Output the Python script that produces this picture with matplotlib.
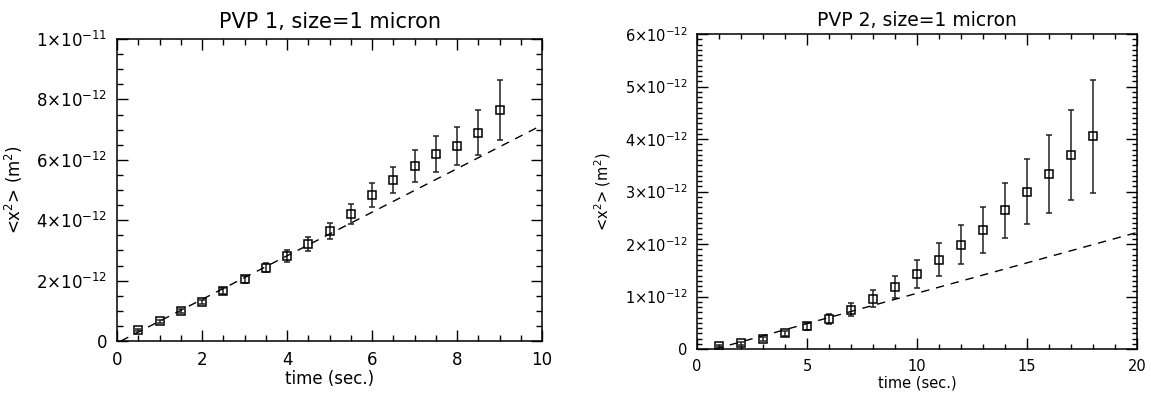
import matplotlib
matplotlib.use("Agg")
import matplotlib.pyplot as plt
from matplotlib.ticker import MultipleLocator

# PVP 1 data (t in sec, <x^2> in units of 1e-12 m^2)
t1 = [0.5, 1.0, 1.5, 2.0, 2.5, 3.0, 3.5, 4.0, 4.5, 5.0, 5.5, 6.0, 6.5, 7.0, 7.5, 8.0, 8.5, 9.0]
msd1 = [0.36, 0.66, 0.99, 1.29, 1.67, 2.04, 2.43, 2.82, 3.21, 3.65, 4.20, 4.83, 5.33, 5.78, 6.18, 6.45, 6.90, 7.65]
err1 = [0.04, 0.05, 0.07, 0.08, 0.10, 0.12, 0.15, 0.19, 0.23, 0.27, 0.33, 0.40, 0.44, 0.53, 0.60, 0.63, 0.75, 1.00]
fit1_t = [0.09, 10.0]
fit1_y = [0.0, 7.15]
yticks1 = [0, 2, 4, 6, 8, 10]
ylabels1 = ["0", r"$2{\times}10^{-12}$", r"$4{\times}10^{-12}$", r"$6{\times}10^{-12}$",
            r"$8{\times}10^{-12}$", r"$1{\times}10^{-11}$"]

# PVP 2 data
t2 = [1, 2, 3, 4, 5, 6, 7, 8, 9, 10, 11, 12, 13, 14, 15, 16, 17, 18]
msd2 = [0.05, 0.11, 0.19, 0.30, 0.43, 0.57, 0.75, 0.96, 1.19, 1.43, 1.70, 1.99, 2.27, 2.64, 3.00, 3.34, 3.70, 4.05]
err2 = [0.02, 0.03, 0.04, 0.05, 0.06, 0.09, 0.12, 0.16, 0.21, 0.26, 0.31, 0.37, 0.44, 0.53, 0.62, 0.74, 0.86, 1.07]
fit2_t = [0.82, 20.0]
fit2_y = [0.0, 2.22]
yticks2 = [0, 1, 2, 3, 4, 5, 6]
ylabels2 = ["0"] + [r"$%d{\times}10^{-12}$" % k for k in range(1, 7)]

plt.rcParams["font.family"] = ["DejaVu Sans"]
plt.rcParams["mathtext.fontset"] = "dejavusans"

fig = plt.figure(figsize=(11.51, 3.94), dpi=100)
ax1 = fig.add_axes([0.1017, 0.1345, 0.3692, 0.7665])
ax2 = fig.add_axes([0.6056, 0.1142, 0.3823, 0.7995])


def style(ax, fs, ymin):
    for s in ax.spines.values():
        s.set_linewidth(1.1)
    ax.tick_params(which="both", direction="in", top=True, right=True,
                   labelsize=fs, width=1.0, pad=7)
    ax.tick_params(which="major", length=8)
    ax.tick_params(which="minor", length=4)
    ax.yaxis.set_minor_locator(MultipleLocator(ymin))


# left panel
ax1.errorbar(t1, msd1, yerr=err1, fmt="s", ms=6, mfc="none", mec="black", mew=1.1,
             ecolor="#222222", elinewidth=1.1, capsize=2.5, capthick=1.1)
ax1.plot(fit1_t, fit1_y, color="black", lw=1.0, dashes=(6, 5))
ax1.set_xlim(0, 10)
ax1.set_ylim(0, 10)
ax1.set_xticks([0, 2, 4, 6, 8, 10])
ax1.set_yticks(yticks1)
ax1.set_yticklabels(ylabels1)
ax1.xaxis.set_minor_locator(MultipleLocator(0.5))
style(ax1, 12, 0.5)
ax1.set_title("PVP 1, size=1 micron", fontsize=15, pad=8)
ax1.set_xlabel("time (sec.)", fontsize=12, labelpad=1)
ax1.set_ylabel(r"<x$^2$> (m$^2$)", fontsize=12, labelpad=8)

# right panel
ax2.errorbar(t2, msd2, yerr=err2, fmt="s", ms=6, mfc="none", mec="black", mew=1.1,
             ecolor="#222222", elinewidth=1.1, capsize=2.5, capthick=1.1)
ax2.plot(fit2_t, fit2_y, color="black", lw=1.0, dashes=(6, 5))
ax2.set_xlim(0, 20)
ax2.set_ylim(0, 6)
ax2.set_xticks([0, 5, 10, 15, 20])
ax2.set_yticks(yticks2)
ax2.set_yticklabels(ylabels2)
ax2.xaxis.set_minor_locator(MultipleLocator(1))
style(ax2, 10.5, 0.1)
ax2.tick_params(which="minor", length=3.5)
ax2.set_title("PVP 2, size=1 micron", fontsize=13.5, pad=6)
ax2.set_xlabel("time (sec.)", fontsize=10.5, labelpad=1)
ax2.set_ylabel(r"<x$^2$> (m$^2$)", fontsize=10.5, labelpad=8)

fig.savefig("out.png", dpi=100)
